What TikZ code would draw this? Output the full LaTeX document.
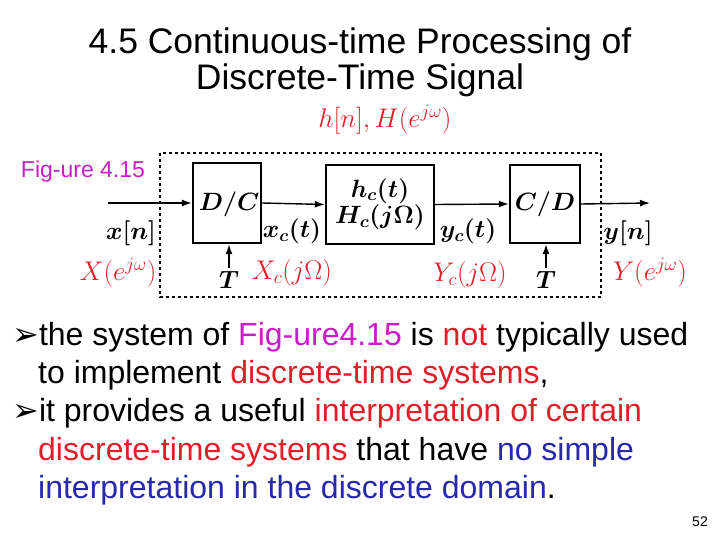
\RequirePackage{fix-cm}
\documentclass[tikz,border=0pt]{standalone}
\usepackage{fontspec}
\setmainfont{Liberation Sans}
\newfontfamily\dv{DejaVu Sans}
\usetikzlibrary{arrows.meta}
\definecolor{myred}{RGB}{225,30,40}
\definecolor{mymag}{RGB}{200,30,200}
\definecolor{myblue}{RGB}{40,40,170}
\tikzset{blk/.style={draw,line width=2.4pt},
 sig/.style={line width=1.4pt,-{Latex[length=10pt,width=7pt]}},
 lab/.style={inner sep=0,font=\fontsize{25}{28}\selectfont\boldmath},
 rlab/.style={lab,text=myred,font=\fontsize{27}{30}\selectfont\unboldmath},
 btxt/.style={anchor=west,font=\fontsize{32}{36}\selectfont,inner sep=0}}
\begin{document}
\begin{tikzpicture}[x=1pt,y=-1pt]
\useasboundingbox (0,0) rectangle (720,540);
\node (t1) at (360,44) {\fontsize{35.5}{40}\selectfont 4.5 Continuous-time Processing of};
\node (t2) at (360,80) {\fontsize{35.5}{40}\selectfont Discrete-Time Signal};
\node[text=mymag,font=\fontsize{23}{26}\selectfont,inner sep=0] (fig) at (83,172) {Fig-ure 4.15};
\draw[dashed,line width=1.3pt] (160,153) rectangle (601,297);
\node[blk,minimum width=68pt,minimum height=80pt] (dc) at (227,203) {};
\node[lab] at (229,204) {$D/C$};
\node[blk,minimum width=108pt,minimum height=79pt] (hc) at (380,204.5) {};
\node[blk,minimum width=70pt,minimum height=78pt] (cd) at (545,204) {};
\node[lab] at (545,204) {$C/D$};
\node[lab,align=center] at (380,204) {$h_c(t)$\\[-2pt]$H_c(j\Omega)$};
\coordinate (in) at (108,203);
\coordinate (out) at (650,203);
\draw[sig] (in) -- (dc.west);
\draw[sig] (dc.east) -- (hc.west);
\draw[sig] (hc.east) -- (cd.west);
\draw[sig] (cd.east) -- (out);
\coordinate (T1) at (229,268); \coordinate (T2) at (546,268);
\draw[sig] (T1) -- (T1|-dc.south);
\draw[sig] (T2) -- (T2|-cd.south);
\node[lab] (tt1) at (229,280) {$T$};
\node[lab] (tt2) at (546,280) {$T$};
\node[lab] at (131,233) {$x[n]$};
\node[lab] at (292,231) {$x_c(t)$};
\node[lab] at (468,231) {$y_c(t)$};
\node[lab] at (628,233) {$y[n]$};
\node[rlab] at (118,273) {$X\Bigl(e^{j\omega}\Bigr)$};
\node[rlab] at (292,273) {$X_c\Bigl(j\Omega\Bigr)$};
\node[rlab] at (470,275) {$Y_c\Bigl(j\Omega\Bigr)$};
\node[rlab] at (650,273) {$Y\Bigl(e^{j\omega}\Bigr)$};
\node[rlab] at (385,120) {$h[n],H\Bigl(e^{j\omega}\Bigr)$};
\node[btxt] (b1) at (12,337) {{\dv ➢}the system of \textcolor{mymag}{Fig-ure4.15} is \textcolor{myred}{not} typically used};
\node[btxt] (b2) at (38,375) {to implement \textcolor{myred}{discrete-time systems},};
\node[btxt] (b3) at (12,413) {{\dv ➢}it provides a useful \textcolor{myred}{interpretation of certain}};
\node[btxt] (b4) at (38,452) {\textcolor{myred}{discrete-time systems} that have \textcolor{myblue}{no simple}};
\node[btxt] (b5) at (38,490) {\textcolor{myblue}{interpretation in the discrete domain}.};
\node[font=\fontsize{14}{16}\selectfont] (pg) at (700,522) {52};
\end{tikzpicture}
\end{document}
